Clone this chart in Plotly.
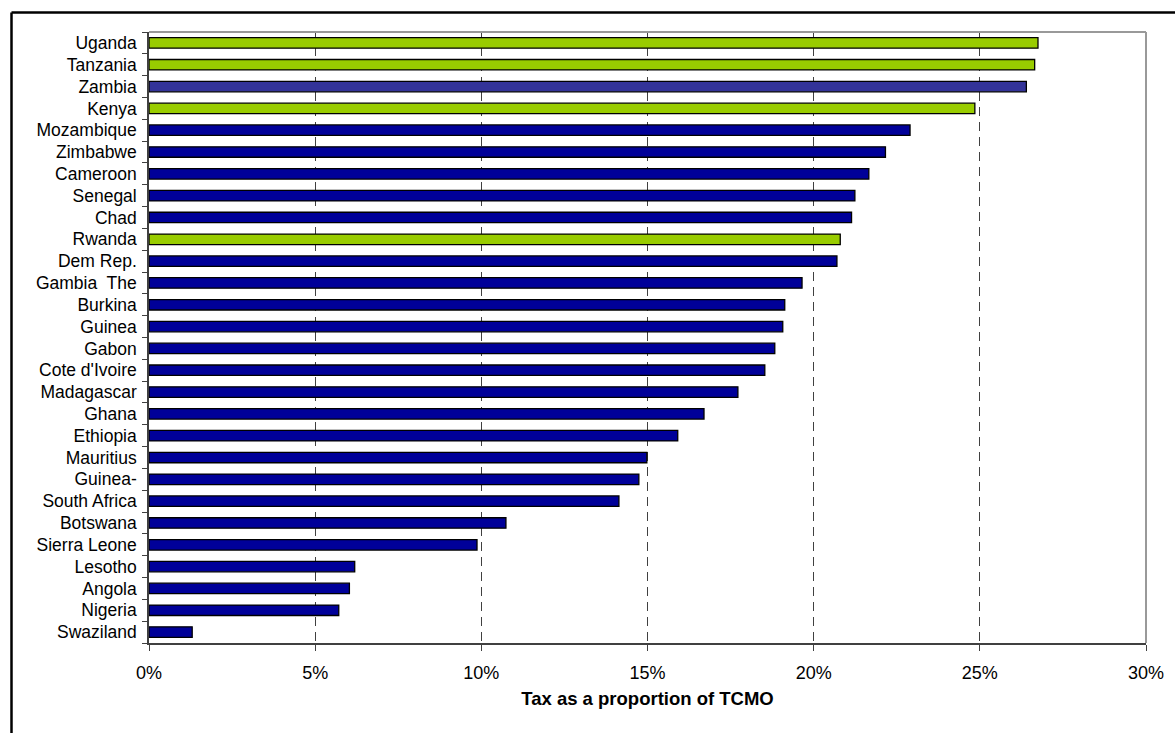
import plotly.graph_objects as go

# Tax as a proportion of TCMO, by country (percent)
countries = [
    "Uganda", "Tanzania", "Zambia", "Kenya", "Mozambique", "Zimbabwe",
    "Cameroon", "Senegal", "Chad", "Rwanda", "Dem Rep.", "Gambia  The",
    "Burkina", "Guinea", "Gabon", "Cote d'Ivoire", "Madagascar", "Ghana",
    "Ethiopia", "Mauritius", "Guinea-", "South Africa", "Botswana",
    "Sierra Leone", "Lesotho", "Angola", "Nigeria", "Swaziland",
]
tax_pct = [
    26.75, 26.65, 26.40, 24.85, 22.90, 22.16,
    21.66, 21.24, 21.14, 20.80, 20.70, 19.65,
    19.13, 19.07, 18.83, 18.53, 17.72, 16.70,
    15.91, 14.98, 14.74, 14.14, 10.74,
    9.87, 6.19, 6.03, 5.71, 1.30,
]
# group used for bar colour
group = [
    "east", "east", "zambia", "east", "other", "other",
    "other", "other", "other", "east", "other", "other",
    "other", "other", "other", "other", "other", "other",
    "other", "other", "other", "other", "other",
    "other", "other", "other", "other", "other",
]
x_ticks = [0, 5, 10, 15, 20, 25, 30]
x_tick_labels = ["0%", "5%", "10%", "15%", "20%", "25%", "30%"]

palette = {"east": "#99CC00", "zambia": "#333399", "other": "#000099"}
bar_colors = [palette[g] for g in group]

W, H = 1175, 733
L, R, T, B = 149, 29, 32, 90
FONT = "Liberation Sans, Arial, sans-serif"

fig = go.Figure(
    go.Bar(
        x=tax_pct,
        y=countries,
        orientation="h",
        marker=dict(color=bar_colors, line=dict(color="#000000", width=1.3)),
        width=0.48,
        hoverinfo="x+y",
    )
)

fig.update_layout(
    width=W,
    height=H,
    margin=dict(l=L, r=R, t=T, b=B, pad=0),
    paper_bgcolor="white",
    plot_bgcolor="white",
    showlegend=False,
    font=dict(family=FONT, size=17.5, color="#000000"),
    xaxis=dict(
        range=[0, 30],
        tickvals=x_ticks,
        ticktext=x_tick_labels,
        tickfont=dict(family=FONT, size=18, color="#000000"),
        showgrid=True,
        gridcolor="#404040",
        griddash="9px,6px",
        gridwidth=1,
        showline=True,
        linecolor="#404040",
        linewidth=1.5,
        mirror=False,
        ticks="outside",
        ticklen=6,
        tickcolor="#404040",
        ticklabelstandoff=7,
        zeroline=False,
        title=dict(
            text="<b>Tax as a proportion of TCMO</b>",
            font=dict(family=FONT, size=18.5, color="#000000"),
            standoff=10,
        ),
    ),
    yaxis=dict(
        categoryorder="array",
        categoryarray=countries[::-1],
        tickfont=dict(family=FONT, size=17.5, color="#000000"),
        showgrid=False,
        showline=True,
        linecolor="#404040",
        linewidth=1.5,
        ticks="outside",
        tickson="boundaries",
        ticklen=5,
        tickcolor="#404040",
        ticklabelstandoff=7,
        zeroline=False,
    ),
)

# plot-area frame: grey on the top and right
fig.add_shape(type="line", xref="paper", yref="paper", x0=0, x1=1, y0=1, y1=1,
              line=dict(color="#999999", width=2))
fig.add_shape(type="line", xref="paper", yref="paper", x0=1, x1=1, y0=0, y1=1,
              line=dict(color="#999999", width=2))

# outer frame around the figure (runs past the right and bottom edges)
pw, ph = W - L - R, H - T - B
def px_to_paper_x(px):
    return (px - L) / pw
def px_to_paper_y(py):
    return (H - B - py) / ph

fx0, fy0 = px_to_paper_x(11.5), px_to_paper_y(12.5)
fig.add_shape(type="line", xref="paper", yref="paper",
              x0=fx0, x1=px_to_paper_x(W + 20), y0=fy0, y1=fy0,
              line=dict(color="#000000", width=2.5))
fig.add_shape(type="line", xref="paper", yref="paper",
              x0=fx0, x1=fx0, y0=fy0, y1=px_to_paper_y(H + 20),
              line=dict(color="#000000", width=2.5))

fig.write_html("out.html")
